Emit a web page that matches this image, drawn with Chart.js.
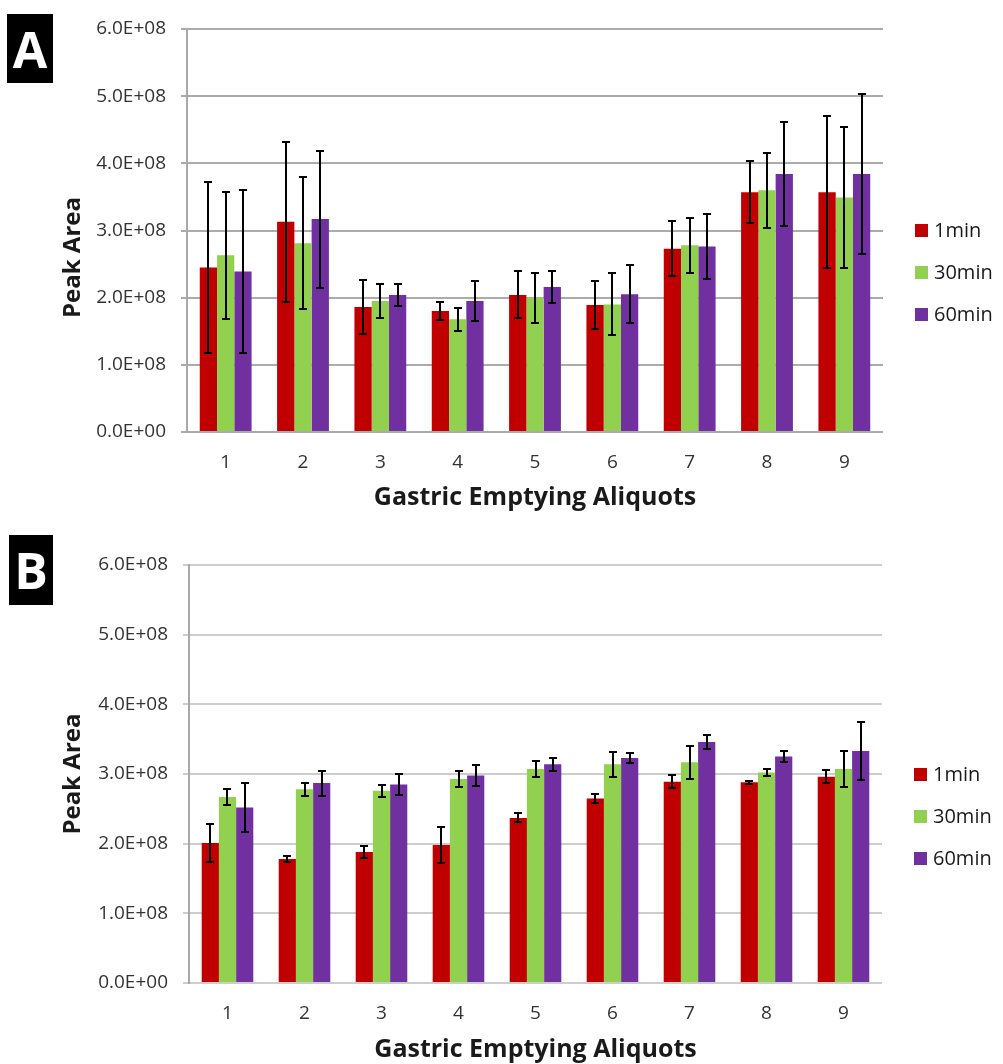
<!DOCTYPE html>
<html>
<head>
<meta charset="utf-8">
<script src="https://cdn.jsdelivr.net/npm/chart.js@4.4.1/dist/chart.umd.min.js"></script>
<style>
  html, body { margin: 0; padding: 0; background: #fff; overflow: hidden; width: 1003px; height: 1064px; }
  .panel { position: absolute; left: 0; width: 1003px; }
  .tag { position: absolute; background: #000; color: #fff; font: bold 50px "Open Sans", sans-serif;
         display: flex; align-items: center; justify-content: center; line-height: 1; }
</style>
</head>
<body>
<div class="panel" style="top:0;height:530px"><canvas id="chartA" width="1003" height="530"></canvas></div>
<div class="panel" style="top:536px;height:540px"><canvas id="chartB" width="1003" height="540"></canvas></div>
<div class="tag" style="left:7px;top:14px;width:46px;height:69px">A</div>
<div class="tag" style="left:9px;top:535px;width:44px;height:70px">B</div>
<script>
// Categories, series and axis labels
const aliquots = ['1', '2', '3', '4', '5', '6', '7', '8', '9'];
const seriesNames = ['1min', '30min', '60min'];
const seriesColors = ['#C00000', '#92D050', '#7030A0'];
const yTickLabels = ['0.0E+00', '1.0E+08', '2.0E+08', '3.0E+08', '4.0E+08', '5.0E+08', '6.0E+08'];
const xTitle = 'Gastric Emptying Aliquots';
const yTitle = 'Peak Area';

// Panel A: mean peak areas and error (±) per aliquot
const a1min   = [2.45e8, 3.13e8, 1.86e8, 1.80e8, 2.04e8, 1.89e8, 2.73e8, 3.57e8, 3.57e8];
const a30min  = [2.63e8, 2.81e8, 1.95e8, 1.68e8, 2.00e8, 1.90e8, 2.78e8, 3.60e8, 3.49e8];
const a60min  = [2.39e8, 3.17e8, 2.04e8, 1.95e8, 2.16e8, 2.05e8, 2.76e8, 3.84e8, 3.84e8];
const a1minErr  = [1.27e8, 1.19e8, 0.40e8, 0.13e8, 0.35e8, 0.36e8, 0.41e8, 0.46e8, 1.13e8];
const a30minErr = [0.95e8, 0.98e8, 0.25e8, 0.17e8, 0.37e8, 0.46e8, 0.41e8, 0.56e8, 1.05e8];
const a60minErr = [1.22e8, 1.02e8, 0.17e8, 0.30e8, 0.24e8, 0.43e8, 0.48e8, 0.77e8, 1.19e8];

// Panel B: mean peak areas and error (±) per aliquot
const b1min   = [2.01e8, 1.78e8, 1.88e8, 1.98e8, 2.37e8, 2.65e8, 2.89e8, 2.88e8, 2.96e8];
const b30min  = [2.67e8, 2.78e8, 2.76e8, 2.93e8, 3.07e8, 3.14e8, 3.17e8, 3.02e8, 3.07e8];
const b60min  = [2.52e8, 2.87e8, 2.85e8, 2.98e8, 3.14e8, 3.23e8, 3.46e8, 3.25e8, 3.33e8];
const b1minErr  = [0.27e8, 0.045e8, 0.08e8, 0.26e8, 0.065e8, 0.06e8, 0.09e8, 0.02e8, 0.095e8];
const b30minErr = [0.12e8, 0.09e8, 0.085e8, 0.115e8, 0.11e8, 0.18e8, 0.235e8, 0.055e8, 0.255e8];
const b60minErr = [0.35e8, 0.18e8, 0.155e8, 0.15e8, 0.095e8, 0.065e8, 0.095e8, 0.08e8, 0.41e8];

const FONT = '"Open Sans", sans-serif';

// Vertical error bars with caps, placed on each bar through the y scale
const errorBars = {
  id: 'errorBars',
  afterDatasetsDraw(chart) {
    const ctx = chart.ctx;
    const yScale = chart.scales.y;
    ctx.save();
    ctx.strokeStyle = '#000';
    ctx.lineWidth = 2;
    chart.data.datasets.forEach((ds, di) => {
      const meta = chart.getDatasetMeta(di);
      meta.data.forEach((bar, i) => {
        const v = ds.data[i], e = ds.errors[i];
        const x = Math.round(bar.x) + 0.0;
        const yTop = Math.round(yScale.getPixelForValue(v + e));
        const yBot = Math.round(yScale.getPixelForValue(v - e));
        ctx.beginPath();
        ctx.moveTo(x, yTop); ctx.lineTo(x, yBot);
        ctx.moveTo(x - 4, yTop); ctx.lineTo(x + 4, yTop);
        ctx.moveTo(x - 4, yBot); ctx.lineTo(x + 4, yBot);
        ctx.stroke();
      });
    });
    ctx.restore();
  }
};

// Legend to the right of the plot, and the rotated y-axis title
const sideText = {
  id: 'sideText',
  afterDraw(chart, args, opts) {
    const ctx = chart.ctx;
    const area = chart.chartArea;
    const cy = (area.top + area.bottom) / 2;
    ctx.save();
    // legend
    ctx.font = '20px ' + FONT;
    ctx.textBaseline = 'middle';
    ctx.textAlign = 'left';
    chart.data.datasets.forEach((ds, i) => {
      const y = cy + opts.legendShift + (i - 1) * 42;
      ctx.fillStyle = ds.backgroundColor;
      ctx.fillRect(area.right + 32, Math.round(y - 6.5), 13, 13);
      ctx.fillStyle = '#1a1a1a';
      ctx.fillText(ds.label, area.right + 51, y + 1);
    });
    // y title
    ctx.translate(73, cy + opts.titleShift);
    ctx.rotate(-Math.PI / 2);
    ctx.font = 'bold 24px ' + FONT;
    ctx.textAlign = 'center';
    ctx.fillStyle = '#1a1a1a';
    ctx.fillText(yTitle, 0, 0);
    ctx.restore();
  }
};

function makeChart(id, series, errors, cfg) {
  const datasets = series.map((data, i) => ({
    label: seriesNames[i],
    data: data,
    errors: errors[i],
    backgroundColor: seriesColors[i],
    borderWidth: 0,
    categoryPercentage: 0.67,
    barPercentage: 1.0
  }));
  return new Chart(document.getElementById(id), {
    type: 'bar',
    data: { labels: aliquots, datasets: datasets },
    plugins: [errorBars, sideText],
    options: {
      responsive: false,
      animation: false,
      layout: { padding: { top: cfg.top, right: cfg.right, left: 0, bottom: 0 } },
      plugins: {
        legend: { display: false },
        tooltip: { enabled: false },
        sideText: { legendShift: 42, titleShift: cfg.titleShift }
      },
      scales: {
        x: {
          afterFit(s) { s.height = cfg.xHeight; },
          grid: { display: false, drawTicks: false },
          border: { display: false },
          ticks: { padding: 19, color: '#333', font: { family: FONT, size: 19 } },
          title: {
            display: true, text: xTitle, color: '#1a1a1a',
            font: { family: FONT, size: 25, weight: 'bold' },
            padding: { top: 0, bottom: cfg.titlePad }
          }
        },
        y: {
          min: 0, max: 6e8,
          afterFit(s) { s.width = cfg.left; },
          ticks: {
            stepSize: 1e8, padding: 15, color: '#333',
            font: { family: FONT, size: 19 },
            callback: (v, i) => yTickLabels[i]
          },
          grid: { color: cfg.gridColor, lineWidth: 2, tickLength: 6, drawTicks: true },
          border: { display: true, color: '#a9a9a9', width: 2 }
        }
      }
    }
  });
}

makeChart('chartA', [a1min, a30min, a60min], [a1minErr, a30minErr, a60minErr],
  { top: 29, right: 120, left: 187, xHeight: 98, titlePad: 17, titleShift: 27, gridColor: '#ababab' });
makeChart('chartB', [b1min, b30min, b60min], [b1minErr, b30minErr, b60minErr],
  { top: 29, right: 121, left: 189, xHeight: 93, titlePad: 11, titleShift: 0, gridColor: '#cdcdcd' });
</script>
</body>
</html>
